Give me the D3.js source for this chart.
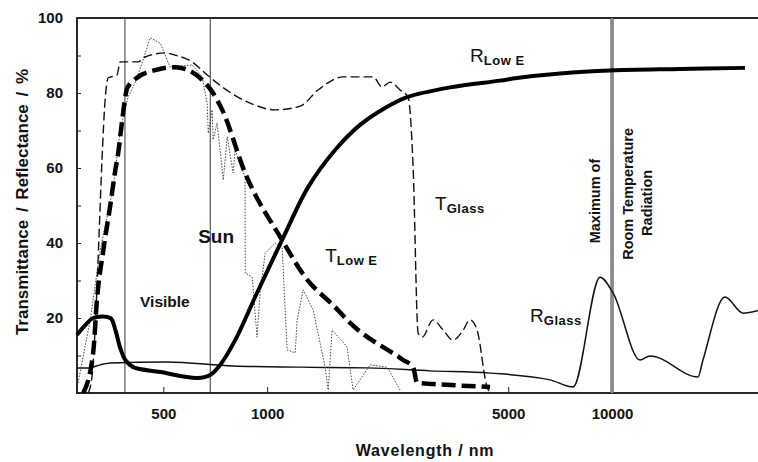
<!DOCTYPE html>
<html>
<head>
<meta charset="utf-8">
<script src="https://cdn.jsdelivr.net/npm/d3@7"></script>
<style>
    body { margin: 0; background: #fff; }
    #chart { width: 758px; height: 462px; }
    text { font-family: Arial, "Liberation Sans", sans-serif; }
</style>
</head>
<body>
<div id="chart"></div>
<script>

// ==========================
// Data (wavelength in nm, value in %)
// ==========================

const tGlassNm = [303, 311, 317, 326, 332, 339, 346, 367, 375, 423, 443, 506, 541, 606, 661, 741, 893, 1055, 1247, 1405, 1661, 2029, 2154, 2273, 2429, 2563, 2650, 2740, 2814, 3029, 3237, 3460, 3675, 3876, 4062, 4342, 4430];
const tGlassPct = [0, 4.8, 16.8, 43.5, 62.1, 78.1, 84, 84.8, 88.3, 88.3, 89.6, 90.7, 90.1, 88.3, 85.3, 81.6, 77.3, 75.5, 76.5, 80.8, 84.3, 84.3, 81.6, 82.9, 80.8, 78.9, 60.3, 16, 14.9, 19.5, 16.8, 14.1, 16.3, 19.5, 16.8, 1.6, 0];

const sunNm = [293, 313, 321, 335, 351, 363, 370, 380, 393, 423, 474, 541, 590, 648, 693, 741, 863, 1105, 1289, 1574, 1740, 2479, 2650, 2722, 3029, 4430];
const sunPct = [0, 10.7, 24.8, 38.1, 50.1, 59.5, 64, 72.8, 81.3, 84.3, 86.1, 86.9, 86.1, 83.5, 80.3, 75.5, 58.7, 40.8, 30.9, 22.9, 18.7, 8.8, 6.9, 2.7, 2.4, 1.6];

const tLowENm = [283, 307, 328, 358, 375, 395, 414, 434, 458, 490, 523, 606, 648, 670, 675, 693, 697, 716, 741, 746, 766, 797, 808, 863, 864, 905, 935, 954, 987, 1055, 1105, 1143, 1206, 1222, 1272, 1360, 1473, 1503, 1543, 1706, 1775, 1989, 2227, 2429];
const tLowEPct = [2.7, 19.5, 38.1, 54.9, 70.1, 78.9, 82.7, 88, 94.7, 93.3, 86.9, 87.5, 84.3, 77.3, 69.3, 75.5, 67.5, 72, 59.5, 56.8, 68.3, 58.7, 64.8, 57.6, 32, 30.9, 14.9, 26.7, 37.3, 40, 38.9, 11.5, 10.7, 19.5, 27.5, 22.1, 6.9, 0.8, 16.8, 12.3, 0.8, 7.5, 6.9, 0.8];

const rLowENm = [281, 297, 313, 351, 363, 375, 388, 409, 490, 627, 684, 731, 808, 923, 1105, 1315, 1574, 1860, 2198, 2546, 3392, 4736, 5303, 7068, 9867, 15740, 24290];
const rLowEPct = [15.5, 18.1, 20, 20, 16.8, 12, 8.8, 6.9, 5.6, 4, 4.8, 7.5, 14.1, 25.6, 40.8, 54.9, 64.8, 71.5, 76, 78.9, 81.5, 83.3, 84.0, 85.2, 86.0, 86.4, 86.7];

const rGlassNm = [281, 303, 328, 351, 513, 797, 1247, 1949, 2969, 4430, 6612, 7709, 9232, 10066, 12060, 12890, 17750, 18350, 21260, 23970, 26500];
const rGlassPct = [6.7, 6.7, 7.5, 8, 8.3, 7.2, 6.9, 6.7, 5.9, 5.3, 3.5, 1.6, 30.9, 26.7, 8.8, 9.9, 4.3, 8.8, 25.6, 21.3, 22];

const xTicks = [500, 1000, 5000, 10000];
const yTicks = [0, 10, 20, 30, 40, 50, 60, 70, 80, 90, 100];
const visibleBounds = [387, 684];
const roomTempPeak = 10000;

// ==========================
// SVG Setup
// ==========================

const container = d3.select("#chart");
const width = 758;
const height = 462;

const svg = container.append("svg")
    .attr("width", width)
    .attr("height", height);

// ==========================
// Scales
// ==========================

const xScale = d3.scaleLog()
    .domain([281, 26500])
    .range([77, 758]);

const yScale = d3.scaleLinear()
    .domain([0, 100])
    .range([393, 18]);

const left = xScale.range()[0];
const right = xScale.range()[1];

// ==========================
// Frame
// ==========================

svg.append("rect")
    .attr("x", left)
    .attr("y", yScale(100))
    .attr("width", right - left + 4)
    .attr("height", yScale(0) - yScale(100))
    .attr("fill", "none")
    .attr("stroke", "#111")
    .attr("stroke-width", 1.8);

// ==========================
// Axes
// ==========================

const xAxis = d3.axisBottom(xScale)
    .tickValues(xTicks)
    .tickSize(-6)
    .tickPadding(15)
    .tickFormat(d3.format("d"));

const yAxis = d3.axisLeft(yScale)
    .tickValues(yTicks)
    .tickSize(-4)
    .tickPadding(14)
    .tickFormat(d => (d > 0 && d % 20 === 0) ? d : "");

const gx = svg.append("g")
    .attr("transform", `translate(0,${yScale(0)})`)
    .call(xAxis);

const gy = svg.append("g")
    .attr("transform", `translate(${left},0)`)
    .call(yAxis);

[gx, gy].forEach(g => {
    g.select(".domain").remove();
    g.selectAll(".tick line").attr("stroke", "#222").attr("stroke-width", 1);
    g.selectAll(".tick text")
        .style("font-size", "15px")
        .style("font-weight", "bold")
        .attr("fill", "#111");
});

// ==========================
// Reference lines
// ==========================

svg.selectAll(".vis-line")
    .data(visibleBounds)
    .enter()
    .append("line")
    .attr("class", "vis-line")
    .attr("x1", d => xScale(d))
    .attr("x2", d => xScale(d))
    .attr("y1", yScale(100))
    .attr("y2", yScale(0))
    .attr("stroke", "#333")
    .attr("stroke-width", 1);

svg.append("line")
    .attr("x1", xScale(roomTempPeak))
    .attr("x2", xScale(roomTempPeak))
    .attr("y1", yScale(100))
    .attr("y2", yScale(0))
    .attr("stroke", "#555")
    .attr("stroke-width", 3.2);

svg.append("line")
    .attr("x1", xScale(roomTempPeak))
    .attr("x2", xScale(roomTempPeak))
    .attr("y1", yScale(100))
    .attr("y2", yScale(0))
    .attr("stroke", "#bbb")
    .attr("stroke-width", 1);

// ==========================
// Curves
// ==========================

const series = [
    { nm: rGlassNm, pct: rGlassPct, width: 1.5, dash: null, color: "#111", curve: d3.curveMonotoneX },
    { nm: tLowENm, pct: tLowEPct, width: 1, dash: "1.5,1.5", color: "#444", curve: d3.curveLinear },
    { nm: tGlassNm, pct: tGlassPct, width: 1.4, dash: "9,4", color: "#111", curve: d3.curveMonotoneX },
    { nm: rLowENm, pct: rLowEPct, width: 4, dash: null, color: "#000", curve: d3.curveCatmullRom.alpha(0.5) },
    { nm: sunNm, pct: sunPct, width: 4.5, dash: "14,6", color: "#000", curve: d3.curveMonotoneX }
];

series.forEach(s => {
    const pts = s.nm.map((d, i) => [d, s.pct[i]]);
    const line = d3.line()
        .x(d => xScale(d[0]))
        .y(d => yScale(d[1]))
        .curve(s.curve);

    svg.append("path")
        .datum(pts)
        .attr("d", line)
        .attr("fill", "none")
        .attr("stroke", s.color)
        .attr("stroke-width", s.width)
        .attr("stroke-dasharray", s.dash)
        .attr("stroke-linejoin", "round");
});

// ==========================
// Labels
// ==========================

function subLabel(nm, pct, main, sub) {
    const t = svg.append("text")
        .attr("x", xScale(nm))
        .attr("y", yScale(pct))
        .attr("fill", "#111");
    t.append("tspan")
        .style("font-size", "19px")
        .text(main);
    t.append("tspan")
        .attr("dy", 3)
        .style("font-size", "13px")
        .style("font-weight", "bold")
        .style("letter-spacing", "0.5px")
        .text(sub);
}

subLabel(3876, 88.3, "R", "Low E");
subLabel(3069, 48.8, "T", "Glass");
subLabel(1473, 34.9, "T", "Low E");
subLabel(5785, 18.9, "R", "Glass");

svg.append("text")
    .attr("x", xScale(631))
    .attr("y", yScale(40))
    .style("font-size", "19px")
    .style("font-weight", "bold")
    .attr("fill", "#111")
    .text("Sun");

svg.append("text")
    .attr("x", xScale(428))
    .attr("y", yScale(22.9))
    .style("font-size", "15.5px")
    .style("font-weight", "bold")
    .attr("fill", "#111")
    .text("Visible");

const rotated = [
    { nm: 9232, pct: 51.2, text: "Maximum of" },
    { nm: 11503, pct: 53.1, text: "Room Temperature" },
    { nm: 13060, pct: 50.7, text: "Radiation" }
];

rotated.forEach(r => {
    svg.append("text")
        .attr("transform", `translate(${xScale(r.nm)},${yScale(r.pct)}) rotate(-90)`)
        .attr("text-anchor", "middle")
        .style("font-size", "14.5px")
        .style("font-weight", "bold")
        .attr("fill", "#111")
        .text(r.text);
});

// ==========================
// Axis titles
// ==========================

svg.append("text")
    .attr("transform", `translate(28,202) rotate(-90)`)
    .attr("text-anchor", "middle")
    .style("font-size", "17px")
    .style("font-weight", "bold")
    .style("word-spacing", "3px")
    .attr("fill", "#111")
    .text("Transmittance / Reflectance / %");

svg.append("text")
    .attr("x", 425)
    .attr("y", 456)
    .attr("text-anchor", "middle")
    .style("font-size", "16px")
    .style("font-weight", "bold")
    .style("letter-spacing", "0.8px")
    .attr("fill", "#111")
    .text("Wavelength / nm");

</script>
</body>
</html>
